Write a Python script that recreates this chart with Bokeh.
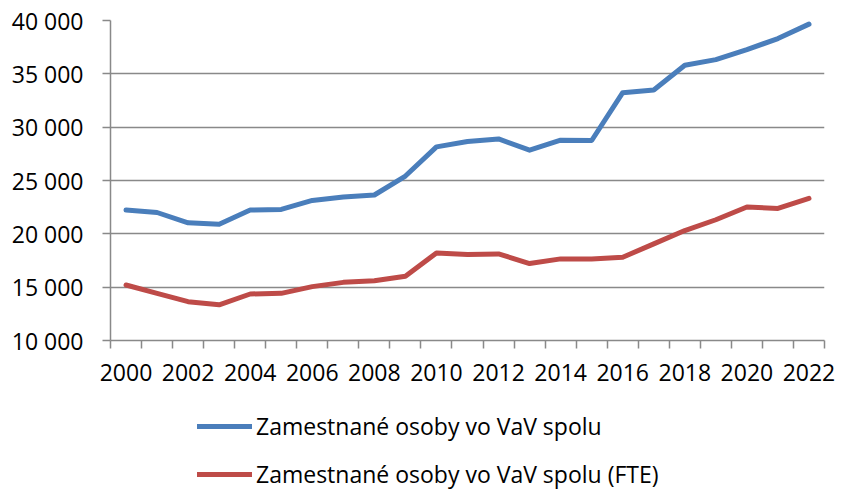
from bokeh.plotting import figure
from bokeh.layouts import column
from bokeh.models import Range1d, FixedTicker, Legend, LegendItem
from bokeh.embed import file_html
from bokeh.resources import INLINE

years = list(range(2000, 2023))
total = [22230, 22000, 21030, 20900, 22230, 22290, 23130, 23450, 23640, 25420,
         28150, 28650, 28900, 27840, 28780, 28750, 33230, 33480, 35800, 36330,
         37270, 38310, 39660]
fte = [15200, 14420, 13640, 13350, 14360, 14420, 15050, 15450, 15610, 16020,
       18210, 18060, 18120, 17210, 17650, 17650, 17810, 19060, 20310, 21320,
       22510, 22380, 23320]
series_names = ["Zamestnané osoby vo VaV spolu", "Zamestnané osoby vo VaV spolu (FTE)"]
series_colors = ["#4A7EBB", "#BE4B48"]
y_ticks = [10000, 15000, 20000, 25000, 30000, 35000, 40000]
y_tick_labels = ["10 000", "15 000", "20 000", "25 000", "30 000", "35 000", "40 000"]
x_label_years = [2000, 2002, 2004, 2006, 2008, 2010, 2012, 2014, 2016, 2018, 2020, 2022]

FONT = "Open Sans"
FS = "23px"
GRID = "#898989"
W = 835

p = figure(width=W, height=390, output_backend="svg", toolbar_location=None,
           x_range=Range1d(years[0] - 0.5, years[-1] + 0.5),
           y_range=Range1d(y_ticks[0], y_ticks[-1]),
           min_border_left=110, min_border_right=11, min_border_top=20,
           min_border_bottom=50)
p.outline_line_color = None
p.background_fill_color = "white"

boundaries = [y - 0.5 for y in years] + [years[-1] + 0.5]
xa = p.xaxis[0]
xa.ticker = FixedTicker(ticks=x_label_years, minor_ticks=boundaries)
xa.major_tick_out = 0
xa.major_tick_in = 0
xa.minor_tick_out = 8
xa.minor_tick_in = 0
xa.minor_tick_line_color = GRID
xa.minor_tick_line_width = 1.5
xa.axis_line_color = GRID
xa.axis_line_width = 1.5
xa.major_label_text_font = FONT
xa.major_label_text_font_size = FS
xa.major_label_text_color = "black"
xa.major_label_standoff = 15

ya = p.yaxis[0]
ya.ticker = FixedTicker(ticks=y_ticks, minor_ticks=[])
ya.major_label_overrides = {t: l for t, l in zip(y_ticks, y_tick_labels)}
ya.major_tick_out = 8
ya.major_tick_in = 0
ya.major_tick_line_color = GRID
ya.major_tick_line_width = 1.5
ya.minor_tick_line_color = None
ya.axis_line_color = GRID
ya.axis_line_width = 1.5
ya.major_label_text_font = FONT
ya.major_label_text_font_size = FS
ya.major_label_text_color = "black"
ya.major_label_standoff = 19

p.xgrid.grid_line_color = None
p.ygrid.ticker = FixedTicker(ticks=y_ticks)
p.ygrid.grid_line_color = GRID
p.ygrid.grid_line_width = 1.5

r1 = p.line(years, total, line_color=series_colors[0], line_width=5, line_join="round", line_cap="round")
r2 = p.line(years, fte, line_color=series_colors[1], line_width=5, line_join="round", line_cap="round")

# legend panel below the chart (same borders so frames stay aligned)
lp = figure(width=W, height=101, output_backend="svg", toolbar_location=None,
            x_range=Range1d(0, 1), y_range=Range1d(0, 1),
            min_border_left=110, min_border_right=11, min_border_top=0,
            min_border_bottom=0)
lp.axis.visible = False
lp.grid.visible = False
lp.outline_line_color = None
# same series, drawn outside this panel's ranges: only their legend glyphs show
g1 = lp.line(years, total, line_color=series_colors[0], line_width=5, line_cap="round")
g2 = lp.line(years, fte, line_color=series_colors[1], line_width=5, line_cap="round")
legend = Legend(items=[LegendItem(label=series_names[0], renderers=[g1]),
                       LegendItem(label=series_names[1], renderers=[g2])],
                location=(87, 1), orientation="vertical", padding=0, margin=0,
                spacing=16, glyph_width=55, glyph_height=20, label_height=20,
                label_standoff=4, border_line_color=None, background_fill_alpha=0,
                label_text_font=FONT, label_text_font_size=FS, label_text_color="black")
lp.add_layout(legend)

layout = column(p, lp, spacing=0)
open("out.html", "w").write(file_html(layout, INLINE))
